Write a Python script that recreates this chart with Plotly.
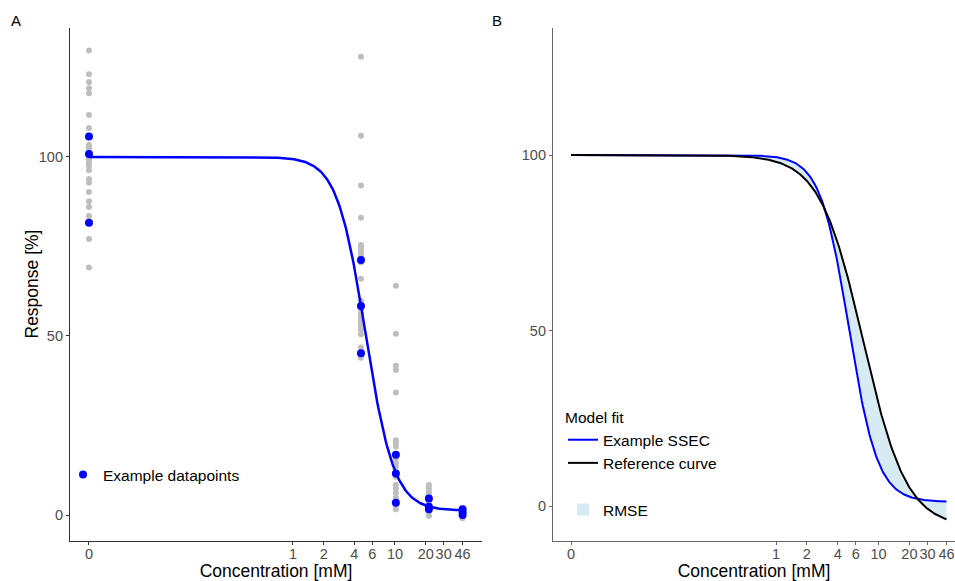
import numpy as np
import plotly.graph_objects as go

# ---------------- data ----------------
ZERO_POS = 0.01  # where concentration 0 is placed on the log axis

tick_vals = [0, 1, 2, 4, 6, 10, 20, 30, 46]
tick_text = ["0", "1", "2", "4", "6", "10", "20", "30", "46"]

# all replicate measurements (grey)
grey_c0 = [129.7, 123.1, 120.9, 119.2, 117.8, 111.7, 108.1, 105.7, 103.3, 102.4, 100.8, 100.1,
           99.2, 98.4, 97.6, 96.3, 93.8, 92.8, 90.2, 87.6, 86.0, 83.5, 81.6, 77.1, 69.1]
grey_c4 = [128.0, 105.9, 92.0, 83.0, 75.4, 74.5, 73.6, 72.6, 71.2, 70.5, 66.0, 59.8, 58.4, 57.5,
           56.3, 55.4, 54.5, 53.5, 52.6, 51.7, 50.5, 46.8, 45.2, 43.9]
grey_c10 = [64.0, 50.6, 41.7, 40.5, 34.2, 20.9, 20.2, 19.1, 16.8, 15.8, 14.6, 13.5, 11.6, 10.7,
            8.4, 7.5, 6.2, 4.9, 3.4, 2.8, 1.6]
grey_c21 = [8.4, 7.5, 6.5, 5.6, 4.6, 3.3, 2.3, 1.6, 0.9, -0.3]
grey_c46 = [1.6, 0.9, 0.3, 0.0, -0.9]
grey_conc = [0] * len(grey_c0) + [4.64] * len(grey_c4) + [10.2] * len(grey_c10) \
    + [21.5] * len(grey_c21) + [46] * len(grey_c46)
grey_resp = grey_c0 + grey_c4 + grey_c10 + grey_c21 + grey_c46

# example datapoints (blue)
ex_conc = [0, 0, 0, 4.64, 4.64, 4.64, 10.2, 10.2, 10.2, 21.5, 21.5, 21.5, 46, 46, 46]
ex_resp = [105.7, 100.8, 81.6, 71.2, 58.4, 45.2, 16.8, 11.6, 3.4, 4.6, 2.3, 1.6, 1.6, 0.8, 0.0]

# fitted log-logistic model parameters
ssec_top, ssec_bottom, ssec_ec50, ssec_slope = 100.0, 1.2, 5.15, 3.1
ref_top, ref_bottom, ref_ec50, ref_slope = 100.0, -6.0, 7.09, 2.05
conc_max = 46


def loglogistic(x, top, bottom, ec50, slope):
    return bottom + (top - bottom) / (1 + (x / ec50) ** slope)


def pos(c):
    return [ZERO_POS if v == 0 else v for v in c]


curve_x = np.logspace(np.log10(ZERO_POS), np.log10(conc_max), 400)
ssec_y = loglogistic(curve_x, ssec_top, ssec_bottom, ssec_ec50, ssec_slope)
ref_y = loglogistic(curve_x, ref_top, ref_bottom, ref_ec50, ref_slope)

# ---------------- figure ----------------
FONT = "Liberation Sans, Arial, sans-serif"
BLUE = "#0000FF"
RMSE_FILL = "rgba(173,216,230,0.5)"
fig = go.Figure()

# Panel A
fig.add_trace(go.Scatter(x=pos(grey_conc), y=grey_resp, mode="markers",
                         marker=dict(color="#BEBEBE", size=6), showlegend=False,
                         xaxis="x", yaxis="y"))
fig.add_trace(go.Scatter(x=curve_x, y=ssec_y, mode="lines", line=dict(color=BLUE, width=2.5),
                         showlegend=False, xaxis="x", yaxis="y"))
fig.add_trace(go.Scatter(x=pos(ex_conc), y=ex_resp, mode="markers", name="Example datapoints",
                         marker=dict(color=BLUE, size=8), legend="legend",
                         xaxis="x", yaxis="y"))

# Panel B
fig.add_trace(go.Scatter(x=curve_x, y=ref_y, mode="lines", line=dict(width=0),
                         showlegend=False, hoverinfo="skip", xaxis="x2", yaxis="y2"))
fig.add_trace(go.Scatter(x=curve_x, y=ssec_y, mode="lines", line=dict(width=0),
                         fill="tonexty", fillcolor=RMSE_FILL, showlegend=False,
                         xaxis="x2", yaxis="y2"))
fig.add_trace(go.Scatter(x=curve_x, y=ssec_y, mode="lines", line=dict(color=BLUE, width=2),
                         name="Example SSEC", legend="legend2", xaxis="x2", yaxis="y2"))
fig.add_trace(go.Scatter(x=curve_x, y=ref_y, mode="lines", line=dict(color="black", width=2),
                         name="Reference curve", legend="legend2", xaxis="x2", yaxis="y2"))
# legend key for the shaded RMSE area
fig.add_trace(go.Bar(x=[None], y=[None], name="RMSE", marker=dict(color=RMSE_FILL, line_width=0),
                     legend="legend3", xaxis="x2", yaxis="y2"))

W, H = 955, 581
tick_font = dict(family=FONT, size=14.5, color="#4d4d4d")
title_font = dict(family=FONT, size=17.5, color="black")


def xaxis(domain, rng, anchor, lc):
    return dict(domain=domain, type="log", range=rng, anchor=anchor, automargin=False,
                tickvals=pos(tick_vals), ticktext=tick_text, tickfont=tick_font, tickangle=0,
                ticks="outside", ticklen=3, tickcolor=lc, ticklabelstandoff=-4,
                showline=True, linecolor=lc,
                linewidth=1.2, showgrid=False, zeroline=False,
                title=dict(text="Concentration [mM]", font=title_font, standoff=6))


def yaxis(domain, rng, anchor, lc):
    return dict(domain=domain, range=rng, anchor=anchor, tickvals=[0, 50, 100], automargin=False,
                tickfont=tick_font, ticks="outside", ticklen=3, tickcolor=lc,
                showline=True, linecolor=lc, linewidth=1.2, showgrid=False, zeroline=False)


ydom = [1 - 541 / H, 1 - 28 / H]
legend_font = dict(family=FONT, size=15.5, color="black")
fig.update_layout(
    width=W, height=H,
    margin=dict(l=0, r=0, t=0, b=0),
    paper_bgcolor="white", plot_bgcolor="white",
    font=dict(family=FONT),
    xaxis=xaxis([70 / W, 482 / W], [-2.186, 1.853], "y", "#333333"),
    yaxis=yaxis(ydom, [-7.26, 136.0], "x", "#333333"),
    xaxis2=xaxis([553 / W, 1.0], [-2.176, 1.746], "y2", "#666666"),
    yaxis2=yaxis(ydom, [-9.97, 136.2], "x2", "#666666"),
    legend=dict(x=63 / W, y=1 - 475 / H, xanchor="left", yanchor="middle",
                bgcolor="rgba(0,0,0,0)", font=legend_font),
    legend2=dict(x=563 / W, y=1 - 403 / H, xanchor="left", yanchor="top",
                 bgcolor="rgba(0,0,0,0)", tracegroupgap=0,
                 title=dict(text="Model fit", font=legend_font),
                 font=legend_font),
    legend3=dict(x=563 / W, y=1 - 510 / H, xanchor="left", yanchor="middle",
                 bgcolor="rgba(0,0,0,0)", font=legend_font),
    annotations=[
        dict(text="A", x=9 / W, y=1 - 20 / H, xref="paper", yref="paper", showarrow=False,
             xanchor="left", yanchor="middle", font=dict(family=FONT, size=15, color="black")),
        dict(text="B", x=490 / W, y=1 - 20 / H, xref="paper", yref="paper", showarrow=False,
             xanchor="left", yanchor="middle", font=dict(family=FONT, size=15, color="black")),
        dict(text="Response [%]", x=32 / W, y=1 - 284.5 / H, xref="paper", yref="paper",
             showarrow=False, textangle=-90, xanchor="center", yanchor="middle",
             font=title_font),
    ],
)

fig.write_html("out.html")
